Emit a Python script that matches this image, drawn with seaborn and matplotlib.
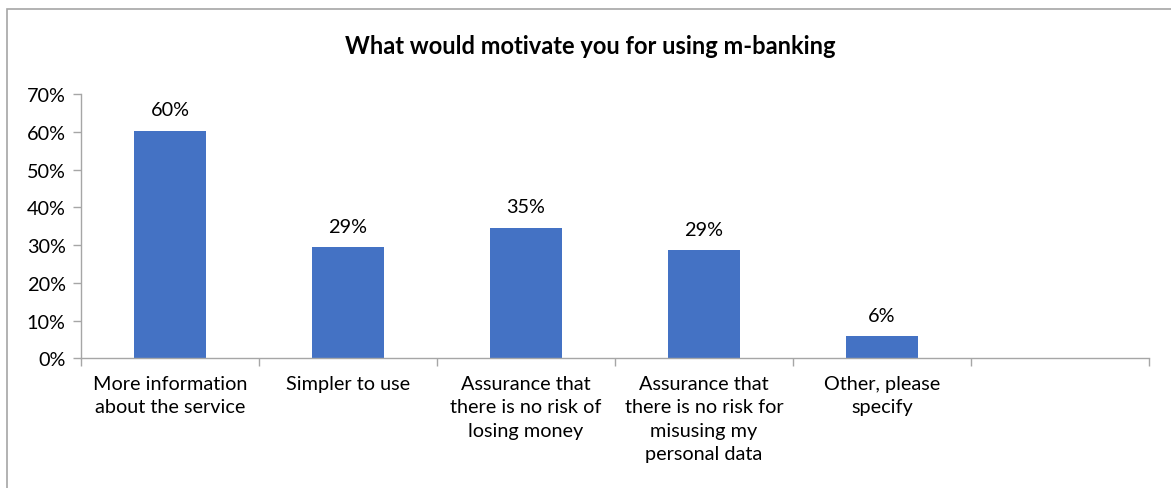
import matplotlib
matplotlib.use("Agg")
import matplotlib.pyplot as plt
from matplotlib.ticker import FuncFormatter, FixedLocator
import seaborn as sns
import pandas as pd

# Survey answers and shares of respondents (%)
categories = [
    "More information\nabout the service",
    "Simpler to use",
    "Assurance that\nthere is no risk of\nlosing money",
    "Assurance that\nthere is no risk for\nmisusing my\npersonal data",
    "Other, please\nspecify",
]
shares = [60.3, 29.4, 34.6, 28.6, 5.8]
y_ticks = [0, 10, 20, 30, 40, 50, 60, 70]
title = "What would motivate you for using m-banking"

sns.set_theme(style="white")
plt.rcParams["font.family"] = ["Lato", "DejaVu Sans"]

W, H, DPI = 1171, 489, 100
fig = plt.figure(figsize=(W / DPI, H / DPI), dpi=DPI)
fig.patch.set_facecolor("white")

# Outer chart frame (left and top edges visible)
frame = plt.Rectangle((7 / W, -0.05), 1.2, 1 - 10 / H + 0.05,
                      transform=fig.transFigure, fill=False,
                      edgecolor="#A6A6A6", linewidth=1.2)
fig.patches.append(frame)

ax = fig.add_axes([81 / W, 1 - 359.3 / H, (1149 - 81) / W, (359.3 - 95) / H])

df = pd.DataFrame({"category": categories, "share": shares})
sns.barplot(data=df, x="category", y="share", color="#4472C4",
            width=0.4, saturation=1, ax=ax, edgecolor="none")

n_slots = len(categories) + 1
ax.set_xlim(-0.5, n_slots - 0.5)
ax.set_ylim(0, 70)
ax.set_yticks(y_ticks)
ax.yaxis.set_major_formatter(FuncFormatter(lambda v, _: f"{v:.0f}%"))

FS = 14.3

# Category labels centred under bars, tick marks at slot boundaries
ax.set_xticks(range(len(categories)))
ax.set_xticklabels(categories, fontsize=FS, color="#000000", linespacing=1.45,
                   va="top")
ax.tick_params(axis="x", which="major", length=0, pad=12)
ax.xaxis.set_minor_locator(FixedLocator([i - 0.5 for i in range(n_slots + 1)]))
ax.tick_params(axis="x", which="minor", length=6, width=1, color="#A6A6A6",
               direction="out", bottom=True)
ax.tick_params(axis="y", length=6, width=1, color="#A6A6A6", direction="out",
               left=True, labelsize=FS, labelcolor="#000000", pad=5)

for side in ["top", "right"]:
    ax.spines[side].set_visible(False)
for side in ["left", "bottom"]:
    ax.spines[side].set_color("#A6A6A6")
    ax.spines[side].set_linewidth(1)

ax.set_xlabel("")
ax.set_ylabel("")
ax.grid(False)

# Value labels above bars
for i, v in enumerate(shares):
    ax.annotate(f"{round(v):.0f}%", xy=(i, v), xytext=(0, 9),
                textcoords="offset points", ha="center", va="bottom",
                fontsize=FS, color="#000000")

fig.text(590 / W, 1 - 47 / H, title, ha="center", va="center",
         fontsize=17, fontweight="bold", color="#000000")

fig.savefig("out.png", dpi=DPI, facecolor="white")
